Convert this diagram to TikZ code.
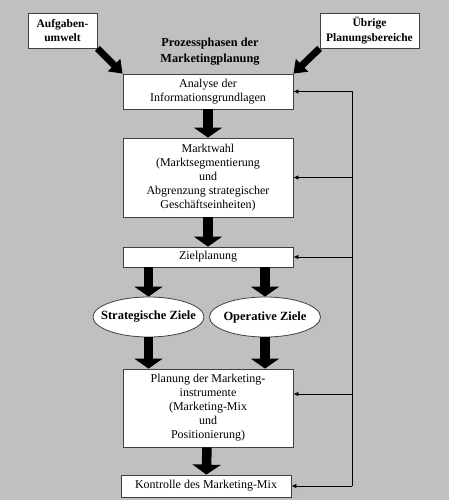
\documentclass[tikz,border=0pt]{standalone}
\usepackage{fontspec}
\setmainfont{Liberation Serif}
\usetikzlibrary{shapes,arrows.meta}
\definecolor{panel}{HTML}{C0C0C0}
\definecolor{rim}{HTML}{404040}

\begin{document}
\begin{tikzpicture}[x=1pt,y=-1pt,
  phase/.style={draw=rim,line width=0.8pt,fill=white,minimum width=170pt,inner sep=0pt,align=center,font=\fontsize{12}{14}\selectfont},
  goal/.style={ellipse,draw=rim,line width=0.8pt,fill=white,minimum width=111pt,minimum height=40pt,inner sep=0pt,
    label={[font=\bfseries\fontsize{12.5}{14}\selectfont]center:#1}},
  source/.style={draw=rim,line width=0.8pt,fill=white,minimum height=35pt,inner sep=0pt,align=center,font=\bfseries\fontsize{11.5}{14.5}\selectfont},
  flow/.style={line width=9.5pt,-{Triangle[length=10pt,width=28pt]}},
  push/.style={line width=7pt,-{Triangle[length=12pt,width=17pt]}},
  feed/.style={line width=0.8pt,-{Latex[length=5pt,width=4.5pt]}}]
  \useasboundingbox (0,0) rectangle (449,500);
  \fill[panel] (0,0) rectangle (449,500);

  \node[source,minimum width=69pt]  (Aufgaben)  at (62.5,30.5)  {Aufgaben-\\umwelt};
  \node[source,minimum width=99pt]  (Uebrige)   at (369.5,30.5) {Übrige\\Planungsbereiche};
  \node[align=center,font=\bfseries\fontsize{12.3}{16}\selectfont]
                                    (Titel)     at (210,52)     {Prozessphasen der\\Marketingplanung};

  \node[phase,minimum height=35pt]  (Analyse)   at (208,91.5)   {Analyse der\\Informationsgrundlagen};
  \node[phase,minimum height=79pt]  (Marktwahl) at (208,177.5)  {Marktwahl\\(Marktsegmentierung\\und\\Abgrenzung strategischer\\Geschäftseinheiten)};
  \node[phase,minimum height=20pt]  (Ziel)      at (208,257)    {Zielplanung};
  \node[goal=Strategische Ziele]    (Strat)     at (148.5,317)  {};
  \node[goal=Operative Ziele]       (Oper)      at (265,317)    {};
  \node[phase,minimum height=78pt]  (Planung)   at (208,408)    {Planung der Marketing-\\instrumente\\(Marketing-Mix\\und\\Positionierung)};
  \node[phase,minimum height=22pt]  (Kontrolle) at (206,486)    {Kontrolle des Marketing-Mix};

  \coordinate (rail) at (352,0);

  \draw[push] (Aufgaben.south east) -- (Analyse.north west);
  \draw[push] (Uebrige.south west)  -- (Analyse.north east);

  \draw[flow] (Analyse)   -- (Marktwahl);
  \draw[flow] (Marktwahl) -- (Ziel);
  \draw[flow] (Ziel.south -| Strat) -- (Strat);
  \draw[flow] (Ziel.south -| Oper)  -- (Oper);
  \draw[flow] (Strat) -- (Planung.north -| Strat);
  \draw[flow] (Oper)  -- (Planung.north -| Oper);
  \draw[flow] (Planung)   -- (Kontrolle);

  \draw[line width=0.8pt] (rail |- Analyse.east) -- (rail |- Kontrolle.east);
  \foreach \n in {Analyse,Marktwahl,Ziel,Kontrolle}
    \draw[feed] (rail |- \n.east) -- (\n.east);
  \draw[feed] ([yshift=14pt]rail |- Planung.east) -- ([yshift=14pt]Planung.east);
\end{tikzpicture}
\end{document}
